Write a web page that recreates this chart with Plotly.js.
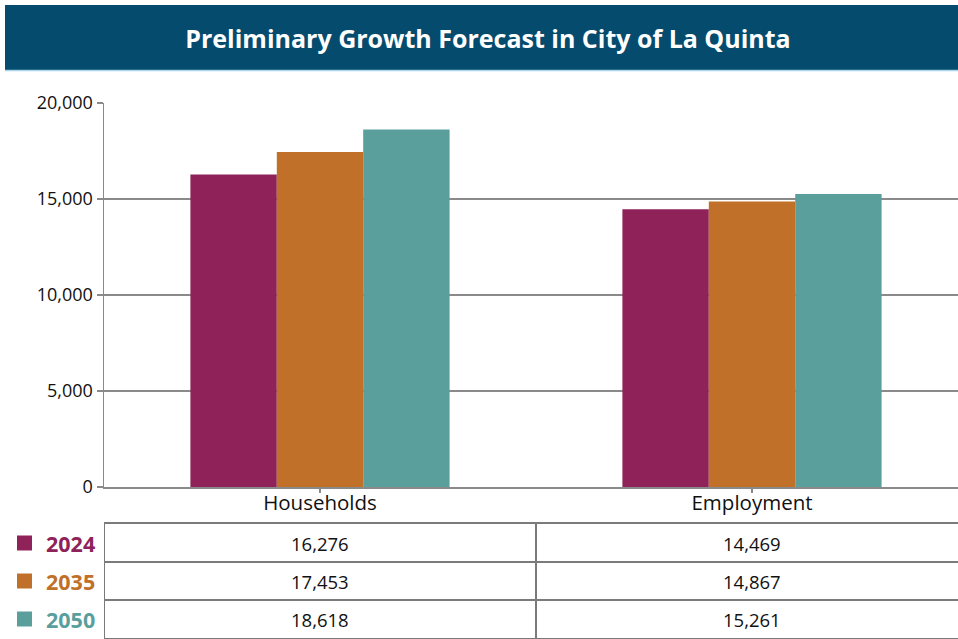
<!DOCTYPE html>
<html><head><meta charset="utf-8">
<script src="https://cdn.plot.ly/plotly-3.0.1.min.js"></script>
<style>html,body{margin:0;padding:0;background:#fff;}#chart{width:958px;height:639px;}</style>
</head><body><div id="chart"></div>
<script>
const categories = ["Households", "Employment"];
const years = ["2024", "2035", "2050"];
const values2024 = [16276, 14469];
const values2035 = [17453, 14867];
const values2050 = [18618, 15261];
const yTickVals = [0, 5000, 10000, 15000, 20000];
const yTickText = ["0", "5,000", "10,000", "15,000", "20,000"];
const chartTitle = "Preliminary Growth Forecast in City of La Quinta";

const colors = ["#8E2259", "#C07029", "#5A9F9C"];
const seriesVals = [values2024, values2035, values2050];
const FONT = "'Open Sans', 'Noto Sans', sans-serif";

const traces = seriesVals.map((v, i) => ({
  type: "bar", name: years[i], x: categories, y: v,
  marker: {color: colors[i]}, hoverinfo: "none"
}));

// pixel helpers (plot: left 104, top 103, bottom 487, width 854)
const H = 639, plotTop = 103, plotBot = 487, plotL = 104, plotW = 854;
const py = p => (plotBot - p) / (plotBot - plotTop);
const px = p => (p - plotL) / plotW;

const rowLines = [523, 562, 600, 639];
const rowCenters = [543, 581, 619];

const shapes = [];
// title banner
shapes.push({type:"rect", xref:"paper", yref:"paper", x0:px(5), x1:px(960), y0:py(70), y1:py(5),
  fillcolor:"#054B6E", line:{width:0}, layer:"above"});
shapes.push({type:"line", xref:"paper", yref:"paper", x0:px(5), x1:px(960), y0:py(70.5), y1:py(70.5),
  line:{color:"#A8D5EA", width:1.5}, layer:"above"});
// table horizontal lines
rowLines.forEach(r => shapes.push({type:"line", xref:"paper", yref:"paper", x0:0, x1:1.01, y0:py(r), y1:py(r),
  line:{color:"#7a7a7a", width:2}}));
// table vertical lines at category boundaries
[-0.5, 0.5].forEach(xv => shapes.push({type:"line", xref:"x", yref:"paper", x0:xv, x1:xv, y0:py(523), y1:py(645),
  line:{color:"#7a7a7a", width:2}}));
// legend squares
years.forEach((y, i) => shapes.push({type:"rect", xref:"paper", yref:"paper",
  x0:px(17), x1:px(32), y0:py(rowCenters[i]+7.5), y1:py(rowCenters[i]-7.5),
  fillcolor:colors[i], line:{width:0}}));

const annotations = [];
years.forEach((y, i) => {
  annotations.push({xref:"paper", yref:"paper", x:px(44), y:py(rowCenters[i]), xanchor:"left", yanchor:"middle",
    text:"<b>"+y+"</b>", showarrow:false, font:{family:FONT, size:21.5, color:colors[i]}});
  categories.forEach((c, j) => {
    annotations.push({xref:"x", yref:"paper", x:c, y:py(rowCenters[i]), xanchor:"center", yanchor:"middle",
      text:seriesVals[i][j].toLocaleString("en-US"), showarrow:false, font:{family:FONT, size:18.5, color:"#111"}});
  });
});

const layout = {
  width: 958, height: 639,
  margin: {l: plotL, r: 0, t: plotTop, b: H - plotBot, pad: 0},
  paper_bgcolor: "#fff", plot_bgcolor: "#fff",
  showlegend: false,
  barmode: "group", bargap: 0.40, bargroupgap: 0,
  title: {text: "<b>" + chartTitle + "</b>", x: 488/958, xref: "container", xanchor: "center",
    y: 1 - 39/639, yref: "container", yanchor: "middle",
    font: {family: FONT, size: 25, color: "#ffffff"}},
  xaxis: {type: "category", range: [-0.5, -0.5 + plotW/432], showgrid: false,
    showline: true, linecolor: "#8a8a8a", linewidth: 1.5,
    ticks: "outside", ticklen: 4, tickcolor: "#8a8a8a", tickwidth: 1.5,
    ticklabelstandoff: -7,
    tickfont: {family: FONT, size: 20.5, color: "#111"}, fixedrange: true},
  yaxis: {range: [0, 20000], tickvals: yTickVals, ticktext: yTickText,
    showgrid: true, gridcolor: "#8a8a8a", gridwidth: 1.5, zeroline: false,
    showline: true, linecolor: "#8a8a8a", linewidth: 1.5,
    ticks: "outside", ticklen: 6, tickcolor: "#8a8a8a", tickwidth: 1.5,
    tickfont: {family: FONT, size: 18, color: "#111"}, fixedrange: true},
  shapes: shapes, annotations: annotations
};

Plotly.newPlot("chart", traces, layout, {displayModeBar: false, staticPlot: true});
</script></body></html>
